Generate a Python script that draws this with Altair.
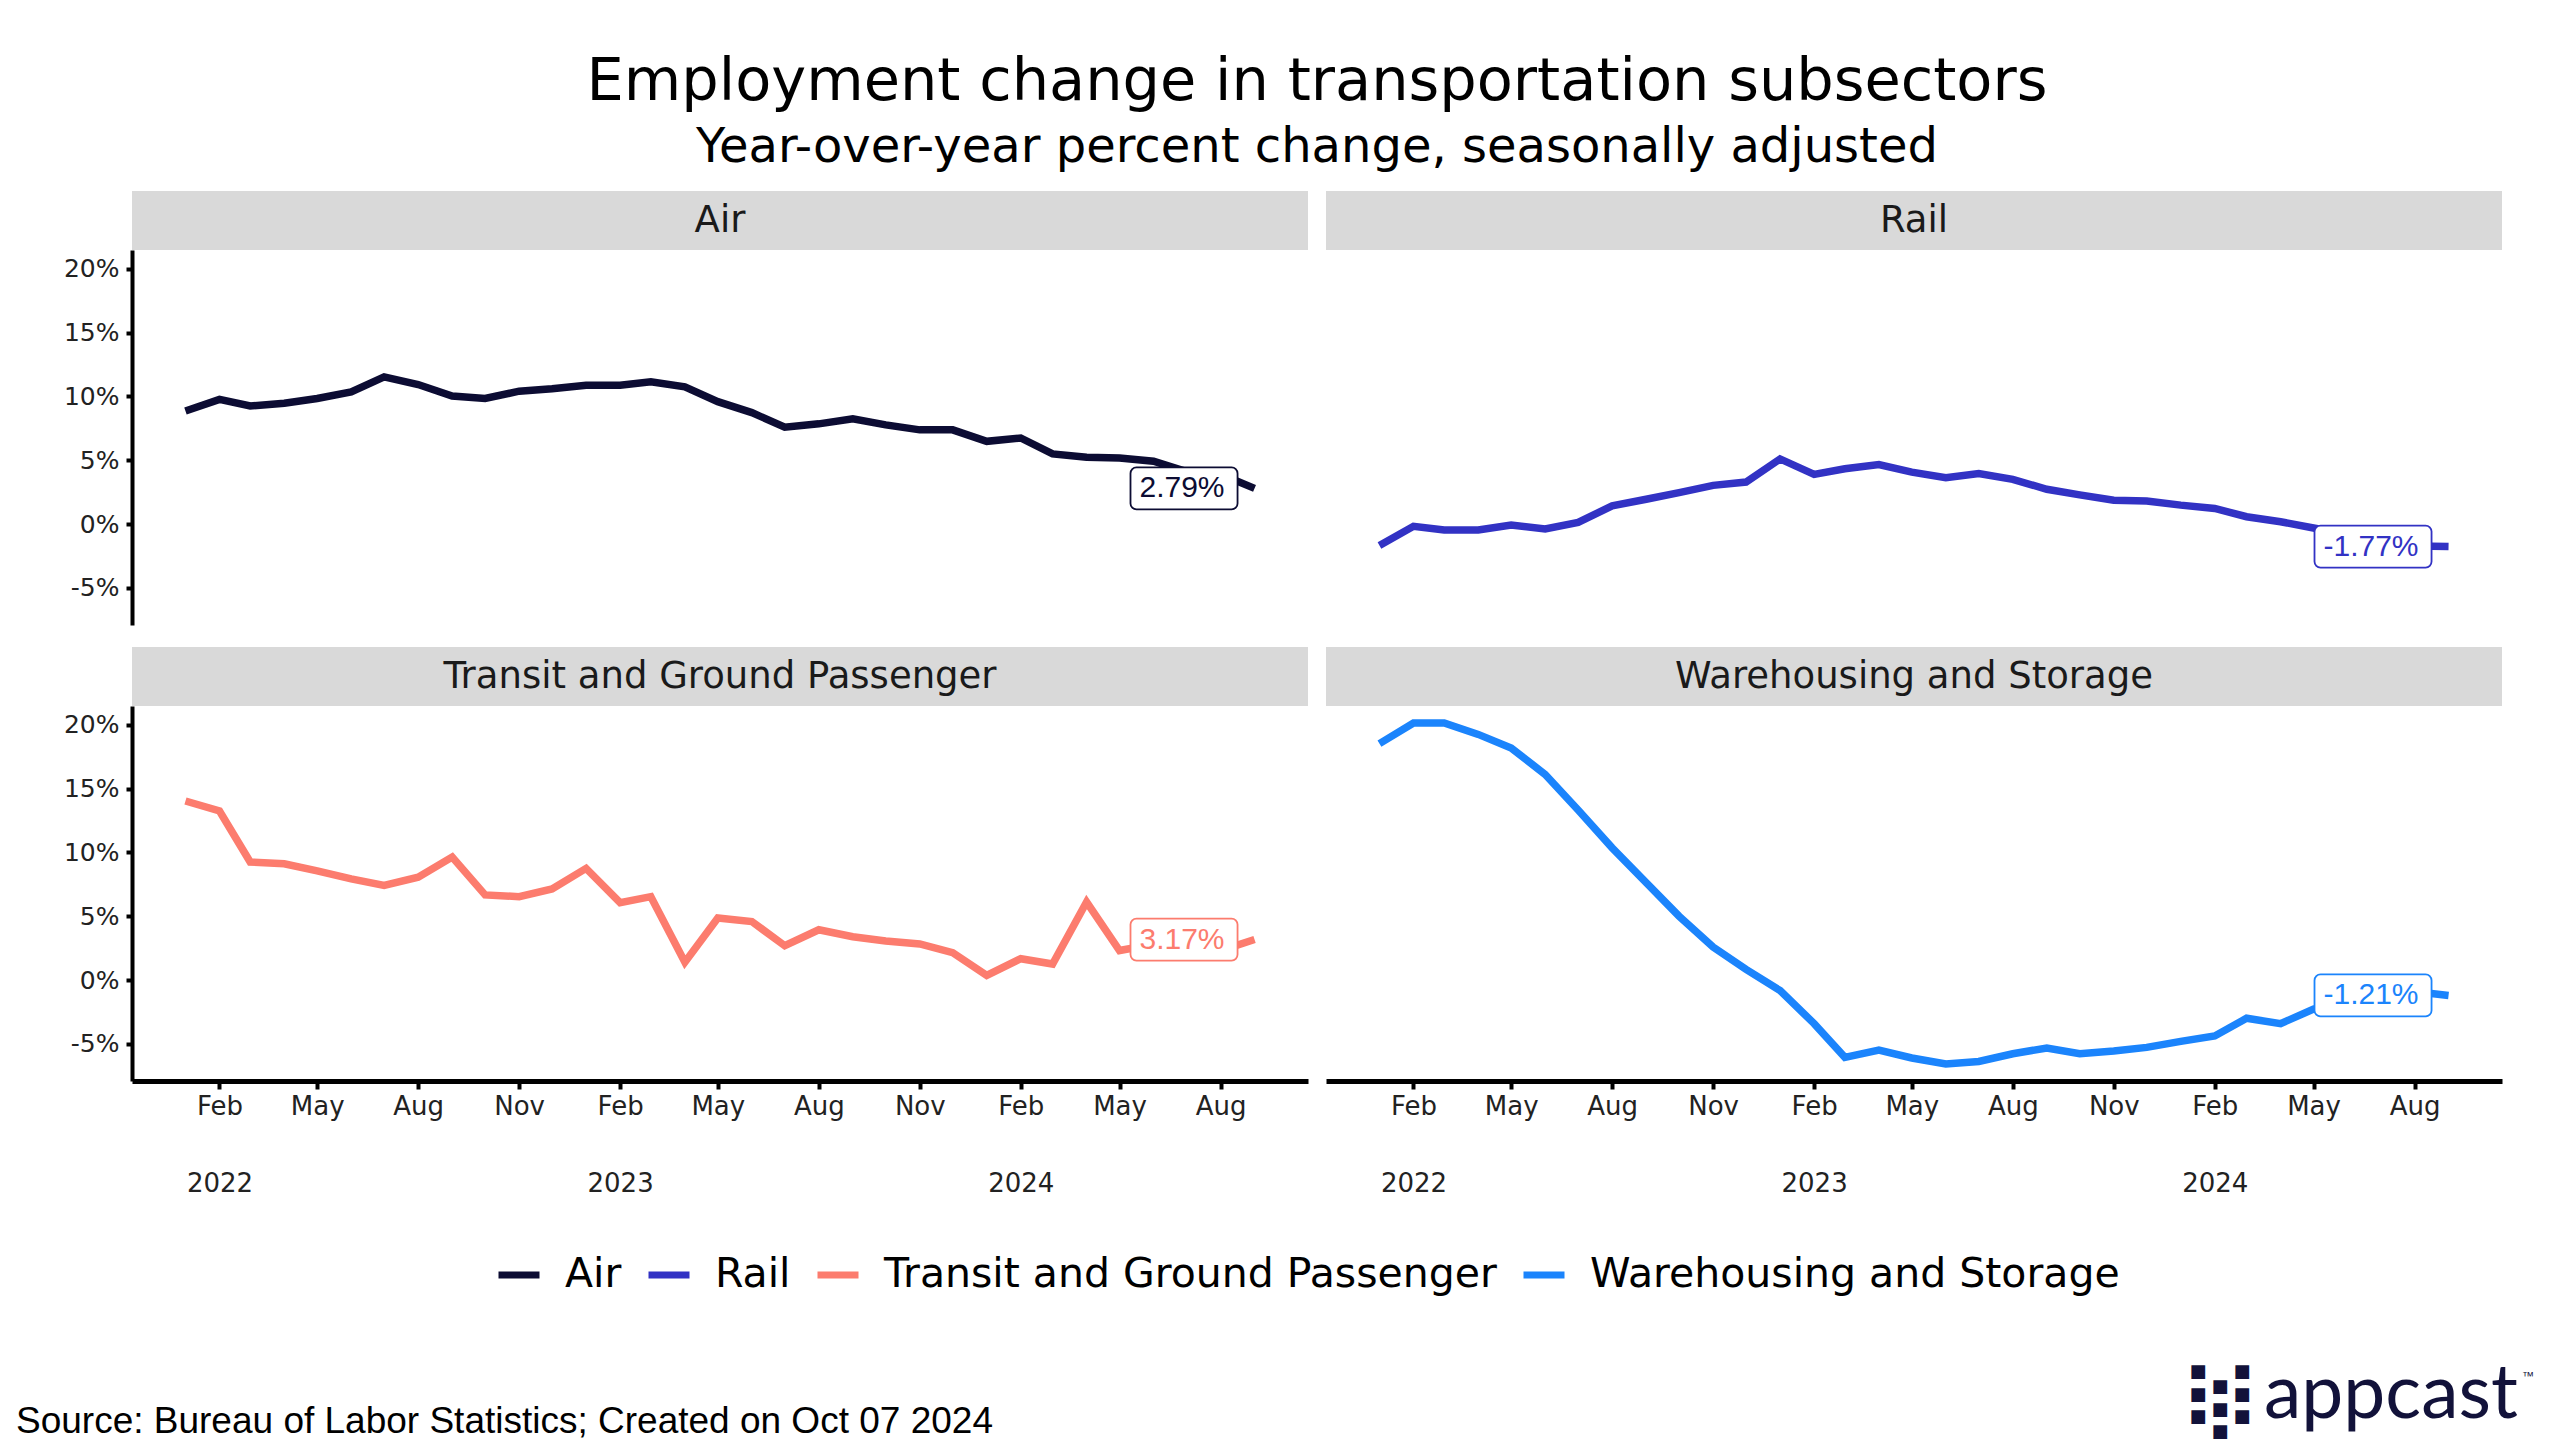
import altair as alt
import pandas as pd

# ---------------- data ----------------
series_names = ["Air", "Rail", "Transit and Ground Passenger", "Warehousing and Storage"]
series_colors = ["#0c0c33", "#3232c4", "#fc7c6e", "#1b84fc"]

months = [d.strftime("%Y-%m-%d") for d in pd.date_range("2022-01-01", "2024-09-01", freq="MS")]

air = [8.86, 9.77, 9.25, 9.46, 9.84, 10.36, 11.53, 10.93, 10.03, 9.84, 10.41, 10.60,
       10.88, 10.88, 11.14, 10.75, 9.59, 8.73, 7.59, 7.85, 8.24, 7.77, 7.38, 7.38,
       6.48, 6.74, 5.49, 5.23, 5.18, 4.92, 4.10, 3.90, 2.79]
rail = [-1.68, -0.18, -0.47, -0.47, -0.08, -0.39, 0.13, 1.42, 1.94, 2.46, 3.03, 3.29,
        5.10, 3.89, 4.33, 4.66, 4.07, 3.63, 3.96, 3.50, 2.72, 2.28, 1.87, 1.81,
        1.48, 1.22, 0.57, 0.18, -0.31, -0.80, -1.25, -1.72, -1.77]
transit = [14.03, 13.25, 9.25, 9.11, 8.56, 7.92, 7.42, 8.06, 9.64, 6.67, 6.53, 7.14,
           8.75, 6.06, 6.53, 1.39, 4.86, 4.58, 2.69, 3.94, 3.39, 3.06, 2.83, 2.14,
           0.36, 1.67, 1.25, 6.11, 2.31, 2.80, 2.60, 2.30, 3.17]
warehousing = [18.53, 20.14, 20.14, 19.25, 18.19, 16.11, 13.33, 10.36, 7.64, 5.00, 2.58, 0.83,
               -0.83, -3.42, -6.06, -5.50, -6.11, -6.58, -6.39, -5.78, -5.33, -5.78, -5.56, -5.28,
               -4.81, -4.39, -3.00, -3.42, -2.28, -1.70, -1.30, -0.90, -1.21]

tick_dates = ["2022-02-01", "2022-05-01", "2022-08-01", "2022-11-01",
              "2023-02-01", "2023-05-01", "2023-08-01", "2023-11-01",
              "2024-02-01", "2024-05-01", "2024-08-01"]
y_ticks = [-5, 0, 5, 10, 15, 20]

title_text = "Employment change in transportation subsectors"
subtitle_text = "Year-over-year percent change, seasonally adjusted"
source_text = "Source: Bureau of Labor Statistics; Created on Oct 07 2024"

# ---------------- build table ----------------
values = {"Air": air, "Rail": rail,
          "Transit and Ground Passenger": transit,
          "Warehousing and Storage": warehousing}
rows = []
for s in series_names:
    for d, v in zip(months, values[s]):
        rows.append({"series": s, "date": d, "value": v})
df = pd.DataFrame(rows)

def ms(d):
    return int(pd.Timestamp(d).value // 10**6)

t0, t1 = ms(months[0]), ms(months[-1])
span = t1 - t0
x_domain = [t0 - 0.05 * span, t1 + 0.05 * span]
vmin, vmax = df.value.min(), df.value.max()
vr = vmax - vmin
y_domain = [vmin - 0.05 * vr, vmax + 0.05 * vr]

W, H = 1176, 375
STRIP = 59
FONT = "DejaVu Sans"

xscale = alt.Scale(type="utc", domain=x_domain, nice=False)
yscale = alt.Scale(domain=y_domain, nice=False, zero=False)
cscale = alt.Scale(domain=series_names, range=series_colors)

xaxis = alt.Axis(
    values=[ms(d) for d in tick_dates],
    labelExpr="utcmonth(datum.value) == 1 ? [utcFormat(datum.value, '%b'), utcFormat(datum.value, '%Y')] : utcFormat(datum.value, '%b')",
    domainColor="black", domainWidth=5, tickColor="black", tickWidth=4, tickSize=8,
    labelFont=FONT, labelFontSize=26, labelColor="#222222", labelPadding=4,
    labelLineHeight=77, labelBaseline="top", grid=False, labelFlush=False,
    labelOverlap=False, title=None,
)
yaxis = alt.Axis(
    values=y_ticks, labelExpr="datum.value + '%'",
    domainColor="black", domainWidth=4, tickColor="black", tickWidth=4, tickSize=6,
    labelFont=FONT, labelFontSize=25, labelColor="#222222", labelPadding=7,
    grid=False, title=None,
)
legend = alt.Legend(
    title=None, orient="none", direction="horizontal", legendX=363, legendY=1001,
    symbolType="stroke", symbolStrokeWidth=7, symbolSize=1681,
    labelFont=FONT, labelFontSize=41, labelColor="black",
    columnPadding=12, labelOffset=22, labelLimit=1000,
)

char_w = {"-": 0.333, ".": 0.278, "%": 0.889}


def panel(name, color, show_y, show_x, extras=None):
    d = df[df.series == name]
    lab = d[d.date == d.date.max()].copy()
    lab["label"] = lab.value.map(lambda v: f"{v:.2f}%")
    txt = lab.label.iloc[0]
    box_w = 22 + 30 * sum(char_w.get(c, 0.556) for c in txt)

    X = alt.X("date:T", scale=xscale, axis=xaxis if show_x else None)
    Y = alt.Y("value:Q", scale=yscale, axis=yaxis if show_y else None)

    line = alt.Chart(d).mark_line(strokeWidth=7.5).encode(
        x=X, y=Y, color=alt.Color("series:N", scale=cscale, legend=legend))
    box = alt.Chart(lab).mark_rect(
        fill="white", stroke=color, strokeWidth=1.8, cornerRadius=6,
        xOffset=-(17 + box_w), x2Offset=-17, yOffset=-21, y2Offset=21,
    ).encode(x=X, x2="date:T", y=Y, y2="value:Q")
    label = alt.Chart(lab).mark_text(
        align="right", baseline="middle", xOffset=-30, font="Liberation Sans",
        fontSize=30, color=color,
    ).encode(x=X, y=Y, text="label:N")

    sdf = pd.DataFrame({"series": [name]})
    strip = alt.Chart(sdf).mark_rect(color="#d9d9d9").encode(
        x=alt.value(0), x2=alt.value(W), y=alt.value(-STRIP), y2=alt.value(0))
    strip_text = alt.Chart(sdf).mark_text(
        font=FONT, fontSize=37, color="#1a1a1a", baseline="middle", align="center"
    ).encode(x=alt.value(W / 2), y=alt.value(-STRIP / 2), text="series:N")

    layers = [strip, strip_text, line, box, label]
    if extras:
        layers += extras
    return alt.layer(*layers).properties(width=W, height=H)


one = pd.DataFrame({"k": [0]})
source = alt.Chart(one).mark_text(
    text=source_text, font="Liberation Sans", fontSize=37, color="black",
    align="left", baseline="alphabetic",
).encode(x=alt.value(-116), y=alt.value(727))

logo_word = alt.Chart(one).mark_text(
    text="appcast", font="Lato", fontSize=75, color="#12123a",
    align="left", baseline="alphabetic",
).encode(x=alt.value(938), y=alt.value(712))
logo_tm = alt.Chart(one).mark_text(
    text="™", font="Liberation Sans", fontSize=12, color="#12123a",
    align="left", baseline="alphabetic",
).encode(x=alt.value(1196), y=alt.value(674))
logo_marks = []
for xx, yy in [(872, 666), (894, 681), (916, 666)]:
    logo_marks.append(alt.Chart(one).mark_text(
        text="■\n■\n■", lineBreak="\n", lineHeight=22.5, font=FONT, fontSize=18,
        color="#12123a", align="center", baseline="middle",
    ).encode(x=alt.value(xx), y=alt.value(yy)))

p_air = panel("Air", series_colors[0], True, False)
p_rail = panel("Rail", series_colors[1], False, False)
p_tr = panel("Transit and Ground Passenger", series_colors[2], True, True, [source])
p_wh = panel("Warehousing and Storage", series_colors[3], False, True,
             [logo_word, logo_tm] + logo_marks)

chart = alt.concat(
    p_air, p_rail, p_tr, p_wh, columns=2,
    spacing={"row": 81, "column": 18}, bounds="flush",
).properties(
    title=alt.TitleParams(
        text=title_text, subtitle=subtitle_text, anchor="middle", frame="group",
        dx=W + 9,
        font=FONT, fontSize=59, fontWeight="normal", color="black",
        subtitleFont=FONT, subtitleFontSize=48, subtitleColor="black",
        subtitlePadding=12, offset=19,
    ),
    padding={"left": 8, "top": 45, "right": 10, "bottom": 10},
).configure(
    background="white",
    view=alt.ViewConfig(stroke="transparent", strokeWidth=0),
)

chart.save("out.html", embed_options={"renderer": "svg", "actions": False})
